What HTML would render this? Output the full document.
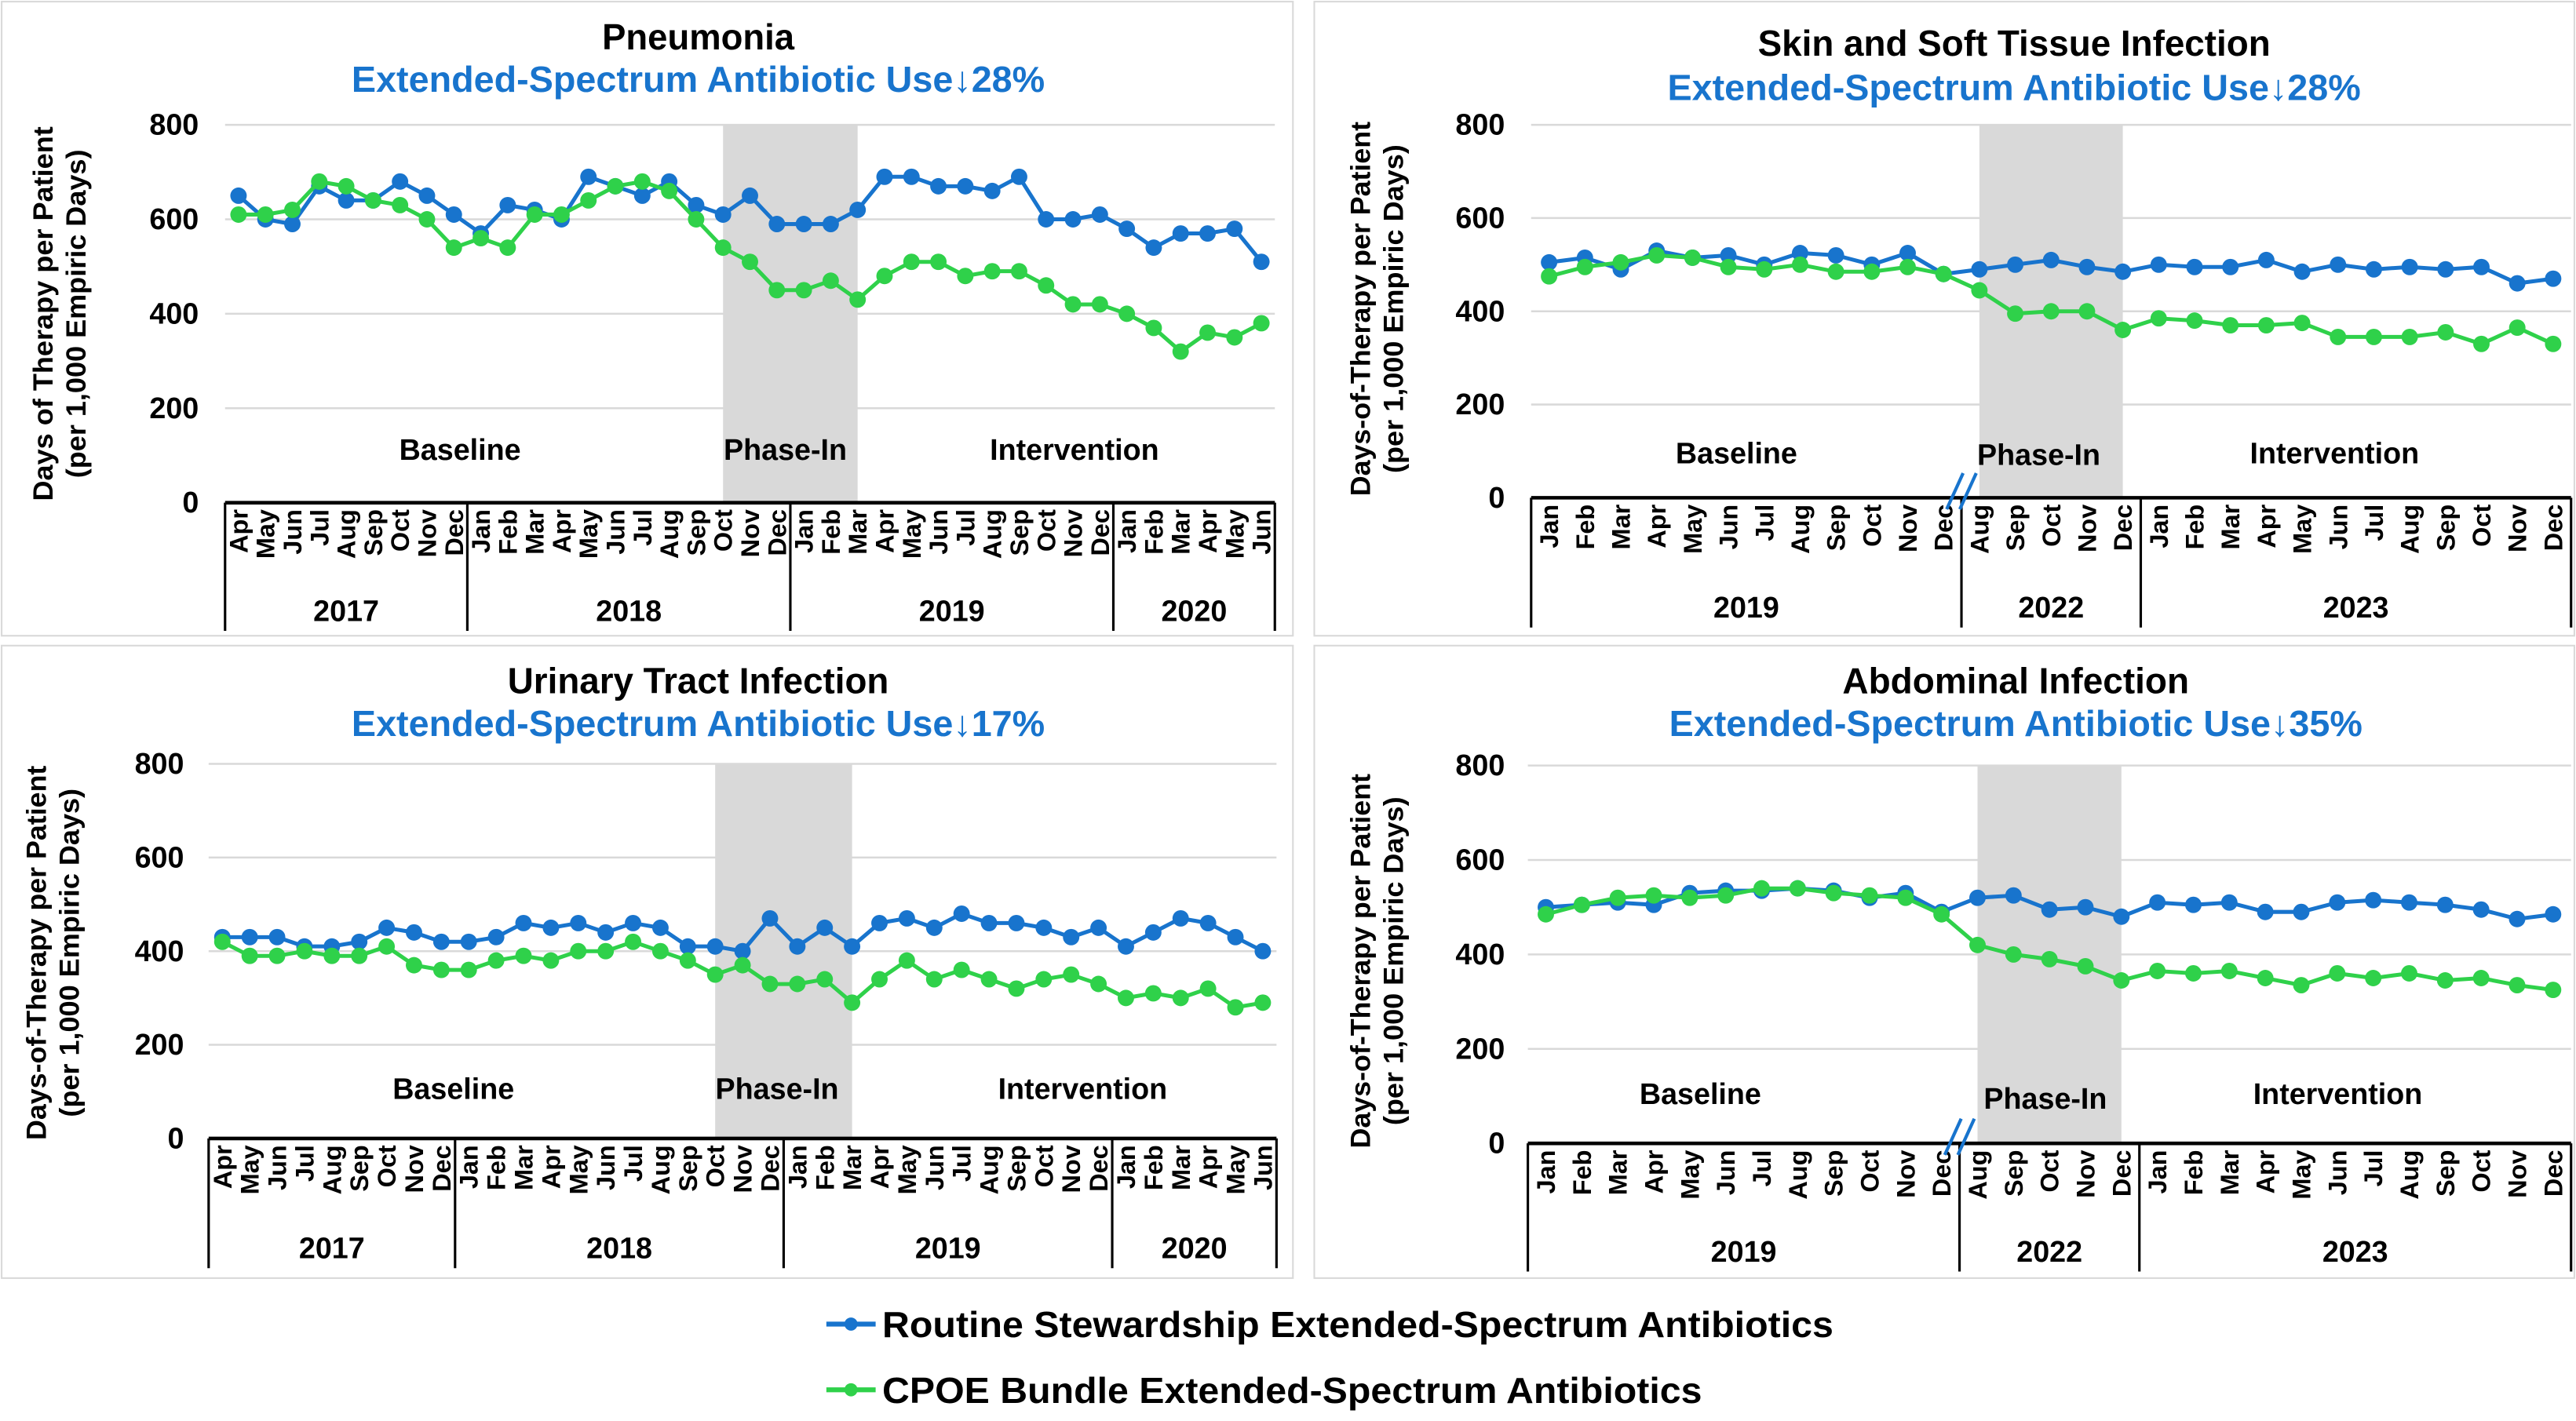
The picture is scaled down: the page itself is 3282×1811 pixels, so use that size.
<!DOCTYPE html>
<html><head><meta charset="utf-8"><style>
html,body{margin:0;padding:0;background:#fff;}
svg{display:block;font-family:"Liberation Sans Narrow","Liberation Sans",sans-serif;}
.b{font-family:"Liberation Sans",sans-serif;font-weight:bold;}
</style></head><body>
<svg id="chart" xmlns="http://www.w3.org/2000/svg" width="3282" height="1811" viewBox="0 0 1568 865" preserveAspectRatio="none">
<g>
  <g>
    <line x1="503" y1="806" x2="533" y2="806" stroke="#1874CD" stroke-width="3"/><circle cx="518" cy="806" r="4" fill="#1874CD"/>
    <text x="537" y="814" font-size="22" font-weight="bold" textLength="579" lengthAdjust="spacingAndGlyphs">Routine Stewardship Extended-Spectrum Antibiotics</text>
  </g>
  <g>
    <line x1="503" y1="846" x2="533" y2="846" stroke="#2FD14A" stroke-width="3"/><circle cx="518" cy="846" r="4" fill="#2FD14A"/>
    <text x="537" y="854" font-size="22" font-weight="bold" textLength="499" lengthAdjust="spacingAndGlyphs">CPOE Bundle Extended-Spectrum Antibiotics</text>
  </g>
</g>
</svg>
<script>
// ---- data ----
const monthsA = ["Apr","May","Jun","Jul","Aug","Sep","Oct","Nov","Dec","Jan","Feb","Mar","Apr","May","Jun","Jul","Aug","Sep","Oct","Nov","Dec","Jan","Feb","Mar","Apr","May","Jun","Jul","Aug","Sep","Oct","Nov","Dec","Jan","Feb","Mar","Apr","May","Jun"];
const yearsA = [["2017",9],["2018",12],["2019",12],["2020",6]];
const monthsB = ["Jan","Feb","Mar","Apr","May","Jun","Jul","Aug","Sep","Oct","Nov","Dec","Aug","Sep","Oct","Nov","Dec","Jan","Feb","Mar","Apr","May","Jun","Jul","Aug","Sep","Oct","Nov","Dec"];
const yearsB = [["2019",12],["2022",5],["2023",12]];
const yTicks = [0,200,400,600,800];

const pneuRoutine = [650,600,590,670,640,640,680,650,610,570,630,620,600,690,670,650,680,630,610,650,590,590,590,620,690,690,670,670,660,690,600,600,610,580,540,570,570,580,510];
const pneuCpoe = [610,610,620,680,670,640,630,600,540,560,540,610,610,640,670,680,660,600,540,510,450,450,470,430,480,510,510,480,490,490,460,420,420,400,370,320,360,350,380];
const skinRoutine = [505,515,490,530,515,520,500,525,520,500,525,480,490,500,510,495,485,500,495,495,510,485,500,490,495,490,495,460,470];
const skinCpoe = [475,495,505,520,515,495,490,500,485,485,495,480,445,395,400,400,360,385,380,370,370,375,345,345,345,355,330,365,330];
const utiRoutine = [430,430,430,410,410,420,450,440,420,420,430,460,450,460,440,460,450,410,410,400,470,410,450,410,460,470,450,480,460,460,450,430,450,410,440,470,460,430,400];
const utiCpoe = [420,390,390,400,390,390,410,370,360,360,380,390,380,400,400,420,400,380,350,370,330,330,340,290,340,380,340,360,340,320,340,350,330,300,310,300,320,280,290];
const abdRoutine = [500,505,510,505,530,535,535,540,535,520,530,490,520,525,495,500,480,510,505,510,490,490,510,515,510,505,495,475,485];
const abdCpoe = [485,505,520,525,520,525,540,540,530,525,520,485,420,400,390,375,345,365,360,365,350,335,360,350,360,345,350,335,325];

const NS="http://www.w3.org/2000/svg";
const svg=document.getElementById('chart');
function el(tag,attrs,parent,txt){const e=document.createElementNS(NS,tag);for(const k in attrs)e.setAttribute(k,attrs[k]);if(txt!==undefined)e.textContent=txt;(parent||svg).appendChild(e);return e;}

const panels=[
 {name:"pneumonia",box:[1,1,786,386],x0:137,x1:776,yTop:76,yBot:306,tickX:121,title:"Pneumonia",tW:117,sub:"Extended-Spectrum Antibiotic Use\u219328%",tcx:425,cx:425,ty:30,sy:56,
  months:monthsA,years:yearsA,shade:[18,23],brk:null,r:pneuRoutine,c:pneuCpoe,yl:[32,52,191],ytitle:"Days of Therapy per Patient",
  ph:[[280,280,"Baseline"],[478,280,"Phase-In"],[654,280,"Intervention"]],yearY:378,lineY:382},
 {name:"skin",box:[800,1,767,386],x0:932,x1:1565,yTop:76,yBot:303,tickX:916,title:"Skin and Soft Tissue Infection",tW:312,sub:"Extended-Spectrum Antibiotic Use\u219328%",tcx:1226,cx:1226,ty:34,sy:61,
  months:monthsB,years:yearsB,shade:[12,16],brk:12,r:skinRoutine,c:skinCpoe,yl:[834,854,188],ytitle:"Days-of-Therapy per Patient",
  ph:[[1057,282,"Baseline"],[1241,283,"Phase-In"],[1421,282,"Intervention"]],yearY:376,lineY:380},
 {name:"uti",box:[1,393,786,385],x0:127,x1:777,yTop:465,yBot:693,tickX:112,title:"Urinary Tract Infection",tW:232,sub:"Extended-Spectrum Antibiotic Use\u219317%",tcx:425,cx:425,ty:422,sy:448,
  months:monthsA,years:yearsA,shade:[18,23],brk:null,r:utiRoutine,c:utiCpoe,yl:[28,48,580],ytitle:"Days-of-Therapy per Patient",
  ph:[[276,669,"Baseline"],[473,669,"Phase-In"],[659,669,"Intervention"]],yearY:766,lineY:770},
 {name:"abdominal",box:[800,393,767,385],x0:930,x1:1565,yTop:466,yBot:696,tickX:916,title:"Abdominal Infection",tW:211,sub:"Extended-Spectrum Antibiotic Use\u219335%",tcx:1227,cx:1227,ty:422,sy:448,
  months:monthsB,years:yearsB,shade:[12,16],brk:12,r:abdRoutine,c:abdCpoe,yl:[834,854,585],ytitle:"Days-of-Therapy per Patient",
  ph:[[1035,672,"Baseline"],[1245,675,"Phase-In"],[1423,672,"Intervention"]],yearY:768,lineY:772}
];

panels.forEach(p=>{
  const g=el('g',{});
  
  
  const n=p.months.length, w=(p.x1-p.x0)/n;
  const X=i=>p.x0+(i+0.5)*w;
  const Y=v=>p.yBot-(v/800)*(p.yBot-p.yTop);
  const border=el('rect',{x:p.box[0],y:p.box[1],width:p.box[2],height:p.box[3],fill:"none",stroke:"#d9d9d9","stroke-width":1},g);
  
  
  const t=el('text',{x:p.tcx,y:p.ty,"text-anchor":"middle","font-size":22,"font-weight":"bold",textLength:p.tW,lengthAdjust:"spacingAndGlyphs"},g,p.title);
  
  
  const s=el('text',{x:p.cx,y:p.sy,"text-anchor":"middle","font-size":22,"font-weight":"bold",fill:"#1874CD",textLength:422,lengthAdjust:"spacingAndGlyphs"},g,p.sub);
  
  
  const sh=el('rect',{x:X(p.shade[0]),y:p.yTop,width:X(p.shade[1])-X(p.shade[0]),height:p.yBot-p.yTop,fill:"#d9d9d9"},g);
  
  
  yTicks.forEach(v=>{
    if(v>0){const gl=el('line',{x1:p.x0,x2:p.x1,y1:Y(v),y2:Y(v),stroke:"#d9d9d9","stroke-width":1.2},g);
      
      }
    const tl=el('text',{x:p.tickX,y:Y(v)+6,"text-anchor":"end","font-size":18,"font-weight":"bold"},g,String(v));
    
    
  });
  g.appendChild(sh);
  const yt=el('text',{transform:`translate(${p.yl[0]},${p.yl[2]}) rotate(-90)`,"text-anchor":"middle","font-size":17,"class":"b",textLength:228,lengthAdjust:"spacingAndGlyphs"},g,p.ytitle);
  
  
  const yt2=el('text',{transform:`translate(${p.yl[1]},${p.yl[2]}) rotate(-90)`,"text-anchor":"middle","font-size":17,"class":"b",textLength:200,lengthAdjust:"spacingAndGlyphs"},g,"(per 1,000 Empiric Days)");
  
  
  p.ph.forEach(a=>{const pl=el('text',{x:a[0],y:a[1],"text-anchor":"middle","font-size":18,"font-weight":"bold"},g,a[2]);
    
    });
  const ax=el('line',{x1:p.x0,x2:p.x1,y1:p.yBot,y2:p.yBot,stroke:"#000","stroke-width":2.2},g);
  
  
  p.months.forEach((m,i)=>{
    const ml=el('text',{transform:`translate(${X(i)+5.5},${p.yBot+4}) rotate(-90)`,"text-anchor":"end","font-size":15.5,"class":"b"},g,m);
    
    
  });
  let idx=0;
  const bx=[p.x0];
  p.years.forEach(y=>{
    const a=p.x0+idx*w, b=p.x0+(idx+y[1])*w;
    const yl=el('text',{x:(a+b)/2,y:p.yearY,"text-anchor":"middle","font-size":18,"font-weight":"bold"},g,y[0]);
    
    
    idx+=y[1]; bx.push(p.x0+idx*w);
  });
  bx.forEach(x=>{const d=el('line',{x1:x,x2:x,y1:p.yBot,y2:p.lineY+2,stroke:"#000","stroke-width":1.5},g);
    
    });
  if(p.brk!==null){
    const xb=p.x0+p.brk*w;
    [-4,4].forEach(o=>{const bl=el('line',{x1:xb+o-5,y1:p.yBot+7,x2:xb+o+5,y2:p.yBot-15,stroke:"#1874CD","stroke-width":2},g);
      
      });
  }
  [[p.r,"#1874CD","routine"],[p.c,"#2FD14A","cpoe"]].forEach(sr=>{
    const sg=el('g',{},g);
    
    
    const pts=sr[0].map((v,i)=>X(i).toFixed(1)+","+Y(v).toFixed(1)).join(" ");
    const pl=el('polyline',{points:pts,fill:"none",stroke:sr[1],"stroke-width":2.4},sg);
    
    
    sr[0].forEach((v,i)=>{
      const c=el('circle',{cx:X(i),cy:Y(v),r:5,fill:sr[1]},sg);
      
      
    });
  });
});
</script>
</body></html>
